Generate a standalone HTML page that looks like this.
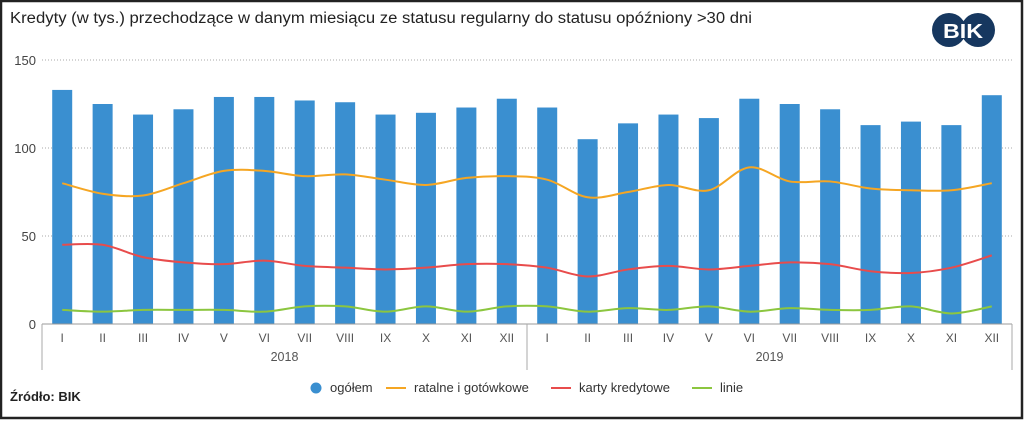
<!DOCTYPE html>
<html><head><meta charset="utf-8"><style>
html,body{margin:0;padding:0;background:#fff}
body{width:1024px;height:420px;overflow:hidden;font-family:"Liberation Sans",sans-serif}
</style></head><body>
<svg id="chart" width="1024" height="420" xmlns="http://www.w3.org/2000/svg" font-family="Liberation Sans, sans-serif">
<rect x="1" y="1" width="1021" height="417" fill="#fff" stroke="#222" stroke-width="2.5"/>
<text x="10" y="23" font-size="15.5" fill="#222" textLength="742" lengthAdjust="spacingAndGlyphs">Kredyty (w tys.) przechodzące w danym miesiącu ze statusu regularny do statusu opóźniony &gt;30 dni</text>
<g>
<circle cx="949" cy="30" r="17" fill="#16375f"/><circle cx="978" cy="30" r="17" fill="#16375f"/>
<text x="963" y="38" font-size="20" font-weight="bold" fill="#fff" text-anchor="middle" textLength="40" lengthAdjust="spacingAndGlyphs">BIK</text>
</g>
<g id="grid"></g><g id="bars"></g><g id="lines"></g><g id="axes"></g>
<g font-size="13" fill="#333">
<g><circle cx="316" cy="388" r="5.5" fill="#3a8fd0"/><text x="330" y="392">ogółem</text></g>
<g><line x1="386" y1="388" x2="406" y2="388" stroke="#f5a623" stroke-width="2"/><text x="414" y="392">ratalne i gotówkowe</text></g>
<g><line x1="551" y1="388" x2="571" y2="388" stroke="#e84c4c" stroke-width="2"/><text x="579" y="392">karty kredytowe</text></g>
<g><line x1="692" y1="388" x2="712" y2="388" stroke="#8cc63f" stroke-width="2"/><text x="720" y="392">linie</text></g>
</g>
<text x="10" y="401" font-size="13" font-weight="bold" fill="#222">Źródło: BIK</text>
</svg>
<script>
const months=["I","II","III","IV","V","VI","VII","VIII","IX","X","XI","XII","I","II","III","IV","V","VI","VII","VIII","IX","X","XI","XII"];
const years=["2018","2019"];
const yTicks=[0,50,100,150];
const ogolem=[133,125,119,122,129,129,127,126,119,120,123,128,123,105,114,119,117,128,125,122,113,115,113,130];
const ratalne=[80,74,73,80,87,87,84,85,82,79,83,84,82,72,75,79,76,89,81,81,77,76,76,80];
const karty=[45,45,38,35,34,36,33,32,31,32,34,34,32,27,31,33,31,33,35,34,30,29,32,39];
const linie=[8,7,8,8,8,7,10,10,7,10,7,10,10,7,9,8,10,7,9,8,8,10,6,10];
const NS="http://www.w3.org/2000/svg";
const X0=42,X1=1012,Y0=324,Y1=60,VMAX=150;
const step=(X1-X0)/months.length;
const xc=i=>X0+step*(i+0.5);
const y=v=>Y0-(v/VMAX)*(Y0-Y1);
function mk(tag,attrs,parent){const e=document.createElementNS(NS,tag);for(const k in attrs)e.setAttribute(k,attrs[k]);document.getElementById(parent).appendChild(e);return e;}
yTicks.forEach(t=>{
  if(t>0){const g=mk('line',{x1:X0,x2:X1,y1:y(t),y2:y(t),stroke:'#aaa','stroke-dasharray':'1,2'},'grid');
  
  }
  const l=mk('text',{x:36,y:y(t)+5,'font-size':13,fill:'#444','text-anchor':'end'},'axes');l.textContent=t;
  
  
});
ogolem.forEach((v,i)=>{
  const b=mk('rect',{x:xc(i)-10,y:y(v),width:20,height:Y0-y(v),fill:'#3a8fd0'},'bars');
  
  
});
function curve(arr){
  const P=arr.map((v,i)=>[xc(i),y(v)]);
  let d='M'+P[0][0]+','+P[0][1];
  for(let i=0;i<P.length-1;i++){
    const p0=P[Math.max(i-1,0)],p1=P[i],p2=P[i+1],p3=P[Math.min(i+2,P.length-1)];
    const t=0.5/3;
    d+=` C${p1[0]+(p2[0]-p0[0])*t},${p1[1]+(p2[1]-p0[1])*t} ${p2[0]-(p3[0]-p1[0])*t},${p2[1]-(p3[1]-p1[1])*t} ${p2[0]},${p2[1]}`;
  }
  return d;
}
[[ratalne,'#f5a623','line-ratalne'],[karty,'#e84c4c','line-karty'],[linie,'#8cc63f','line-linie']].forEach(([a,c,n])=>{
  const p=mk('path',{d:curve(a),fill:'none',stroke:c,'stroke-width':2},'lines');
  
  
});
const ax=mk('line',{x1:X0,x2:X1,y1:Y0,y2:Y0,stroke:'#999'},'axes');


months.forEach((m,i)=>{
  const t=mk('text',{x:xc(i),y:Y0+18,'font-size':12,fill:'#555','text-anchor':'middle'},'axes');t.textContent=m;
  
  
});
[X0,X0+step*12,X1].forEach((x,i)=>{
  const l=mk('line',{x1:x,x2:x,y1:Y0,y2:370,stroke:'#aaa'},'axes');
  
  
});
years.forEach((yr,i)=>{
  const t=mk('text',{x:X0+step*(6+12*i),y:361,'font-size':12.5,fill:'#555','text-anchor':'middle'},'axes');t.textContent=yr;
  
  
});
</script>
</body></html>
